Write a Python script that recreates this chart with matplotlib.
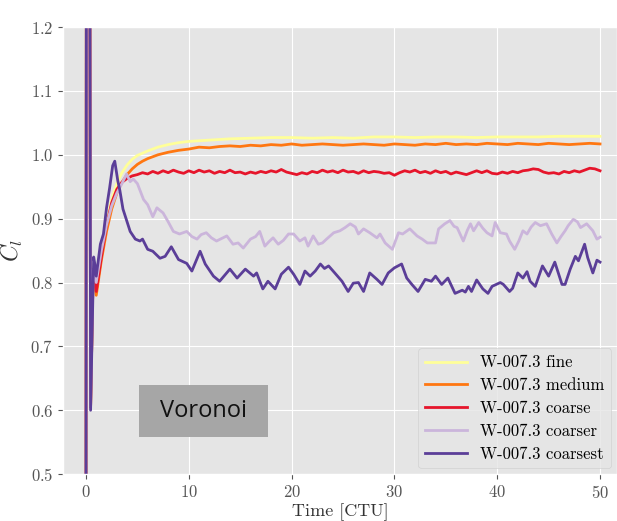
import matplotlib
matplotlib.use('Agg')
import matplotlib.pyplot as plt
from matplotlib.patches import Rectangle

plt.style.use('ggplot')
plt.rcParams['font.family'] = ['cmr10', 'DejaVu Serif']
plt.rcParams['mathtext.fontset'] = 'cm'
plt.rcParams['axes.formatter.use_mathtext'] = True

# common start-up transient (CTU, Cl)
t_start = [0.0, 0.05, 0.35, 0.45, 0.7]
c_start = [0.35, 1.6, 1.6, 0.605, 0.82]

# W-007.3 fine
t_fine = t_start + [1.0, 1.5, 2.0, 2.5, 3.0, 3.5, 4.0, 4.5, 5.0, 6.0, 7.0, 8.0, 9.0, 10.0,
                    12, 14, 16, 18, 20, 22, 24, 26, 28, 30, 32, 34, 36, 38, 40, 42, 44, 46, 48, 50]
c_fine = c_start + [0.79, 0.85, 0.895, 0.93, 0.955, 0.972, 0.984, 0.993, 0.999, 1.006, 1.012, 1.016,
                    1.019, 1.021, 1.023, 1.025, 1.026, 1.027, 1.027, 1.026, 1.027, 1.026, 1.028, 1.028,
                    1.027, 1.028, 1.028, 1.027, 1.028, 1.028, 1.028, 1.029, 1.029, 1.029]

# W-007.3 medium
t_medium = t_start + [1.0, 1.5, 2.0, 2.5, 3.0, 3.5, 4.0, 4.5, 5.0, 5.5, 6.0, 7.0, 8.0, 9.0, 10.0,
                      11, 12, 13, 14, 15, 16, 17, 18, 19, 20, 21, 22, 23, 24, 25, 26, 27, 28, 29, 30,
                      31, 32, 33, 34, 35, 36, 37, 38, 39, 40, 41, 42, 43, 44, 45, 46, 47, 48, 49, 50]
c_medium = c_start + [0.780, 0.835, 0.88, 0.915, 0.94, 0.957, 0.969, 0.978, 0.985, 0.990, 0.994,
                      1.000, 1.004, 1.007, 1.009,
                      1.012, 1.011, 1.013, 1.014, 1.013, 1.015, 1.014, 1.016, 1.015, 1.017,
                      1.015, 1.016, 1.017, 1.016, 1.015, 1.016, 1.017, 1.016, 1.015, 1.017,
                      1.016, 1.015, 1.017, 1.016, 1.018, 1.016, 1.017, 1.016, 1.018, 1.017,
                      1.016, 1.018, 1.017, 1.016, 1.018, 1.017, 1.016, 1.017, 1.018, 1.017]

# W-007.3 coarse
t_coarse = t_start + [1.0, 1.5, 2.0, 2.5, 3.0, 3.5, 4.0, 4.5] + [5.0 + 0.5 * i for i in range(91)]
c_coarse = c_start + [0.786, 0.84, 0.89, 0.925, 0.946, 0.957, 0.963, 0.967,
                      0.969, 0.972, 0.970, 0.974, 0.971, 0.975, 0.972, 0.976, 0.973, 0.971,
                      0.975, 0.972, 0.976, 0.973, 0.975, 0.971, 0.974, 0.972, 0.976, 0.972,
                      0.973, 0.970, 0.973, 0.971, 0.974, 0.972, 0.975, 0.973, 0.977, 0.973,
                      0.971, 0.969, 0.972, 0.970, 0.974, 0.972, 0.976, 0.973, 0.975, 0.972,
                      0.976, 0.973, 0.974, 0.971, 0.975, 0.972, 0.974, 0.973, 0.971, 0.972,
                      0.968, 0.972, 0.975, 0.973, 0.976, 0.972, 0.974, 0.971, 0.975, 0.972,
                      0.974, 0.970, 0.973, 0.971, 0.969, 0.972, 0.975, 0.972, 0.975, 0.971,
                      0.970, 0.973, 0.971, 0.974, 0.972, 0.975, 0.976, 0.978, 0.977, 0.973,
                      0.971, 0.972, 0.970, 0.974, 0.972, 0.975, 0.973, 0.976, 0.979, 0.978,
                      0.975]

# W-007.3 coarser
t_coarser = t_start + [1.0, 1.5, 2.0, 2.5, 3.0, 3.5, 3.95, 4.3, 4.6, 5.0, 5.6, 6.0, 6.5, 6.9, 7.5,
                       8.0, 8.5, 9.1, 9.8, 10.3, 10.8, 11.2, 11.7, 12.2, 12.7, 13.2, 13.7, 14.3, 14.8,
                       15.3, 16.0, 16.5, 16.9, 17.4, 17.8, 18.2, 18.7, 19.2, 19.7, 20.2, 20.8, 21.3,
                       21.6, 22.1, 22.6, 23.0, 23.4, 24.1, 24.7, 25.2, 25.7, 26.2, 26.5, 27.0, 27.6,
                       28.3, 28.6, 29.1, 29.8, 30.4, 30.8, 31.5, 32.2, 32.7, 33.2, 34.0, 34.3, 34.9,
                       35.4, 35.8, 36.1, 36.7, 37.1, 37.4, 37.7, 38.2, 38.6, 39.0, 39.5, 39.8, 40.3,
                       40.9, 41.2, 41.7, 42.1, 42.5, 42.9, 43.3, 43.7, 44.2, 44.8, 45.3, 45.8, 46.2,
                       46.6, 46.9, 47.4, 47.8, 48.1, 48.7, 49.3, 49.7, 50.0]
c_coarser = c_start + [0.80, 0.85, 0.89, 0.92, 0.94, 0.955, 0.970, 0.958, 0.962, 0.955, 0.930, 0.922,
                       0.903, 0.917, 0.909, 0.895, 0.88, 0.876, 0.88, 0.872, 0.868, 0.875, 0.878,
                       0.87, 0.865, 0.869, 0.873, 0.86, 0.862, 0.854, 0.868, 0.872, 0.88, 0.857,
                       0.864, 0.87, 0.86, 0.866, 0.876, 0.876, 0.865, 0.870, 0.857, 0.873, 0.86,
                       0.862, 0.868, 0.878, 0.881, 0.886, 0.892, 0.887, 0.876, 0.884, 0.878, 0.870,
                       0.876, 0.862, 0.852, 0.878, 0.876, 0.884, 0.873, 0.868, 0.862, 0.862, 0.884,
                       0.892, 0.897, 0.888, 0.886, 0.865, 0.882, 0.892, 0.881, 0.894, 0.885, 0.878,
                       0.873, 0.894, 0.878, 0.876, 0.865, 0.852, 0.865, 0.881, 0.876, 0.887, 0.894,
                       0.889, 0.892, 0.876, 0.862, 0.872, 0.881, 0.889, 0.899, 0.895, 0.886, 0.892,
                       0.881, 0.868, 0.871]

# W-007.3 coarsest
t_coarsest = [0.0, 0.05, 0.35, 0.45, 0.75, 0.85, 1.0, 1.4, 1.7, 2.0, 2.3, 2.6, 2.8, 3.1, 3.3, 3.6,
              3.8, 4.3, 4.8, 5.25, 5.5, 6.0, 6.5, 7.2, 7.7, 8.3, 9.0, 9.8, 10.3, 11.1, 11.6, 12.4,
              13.0, 14.0, 14.7, 15.5, 16.3, 16.6, 17.2, 17.7, 18.4, 19.0, 19.7, 20.2, 20.8, 21.3,
              21.8, 22.3, 22.8, 23.2, 23.6, 24.2, 24.9, 25.5, 26.0, 26.5, 27.0, 27.6, 28.3, 28.8,
              29.4, 30.0, 30.7, 31.2, 31.7, 32.3, 33.0, 33.6, 34.0, 34.6, 35.2, 35.9, 36.6, 36.9,
              37.2, 37.5, 38.0, 38.6, 39.1, 39.5, 40.3, 40.6, 41.2, 41.5, 42.0, 42.5, 42.9, 43.2,
              43.7, 44.4, 45.0, 45.6, 46.3, 46.6, 47.1, 47.6, 47.9, 48.5, 48.8, 49.3, 49.7, 50.0]
c_coarsest = [0.35, 1.6, 1.6, 0.60, 0.84, 0.83, 0.81, 0.86, 0.876, 0.917, 0.948, 0.983, 0.99, 0.959,
              0.944, 0.915, 0.905, 0.88, 0.868, 0.865, 0.868, 0.852, 0.849, 0.838, 0.841, 0.856,
              0.836, 0.83, 0.818, 0.849, 0.829, 0.81, 0.802, 0.821, 0.807, 0.821, 0.81, 0.815,
              0.79, 0.802, 0.79, 0.813, 0.824, 0.813, 0.797, 0.818, 0.81, 0.818, 0.829, 0.822,
              0.826, 0.815, 0.802, 0.786, 0.799, 0.80, 0.786, 0.815, 0.805, 0.797, 0.815, 0.823,
              0.829, 0.807, 0.797, 0.786, 0.805, 0.802, 0.81, 0.797, 0.807, 0.783, 0.788, 0.785,
              0.794, 0.786, 0.804, 0.790, 0.783, 0.794, 0.80, 0.797, 0.786, 0.791, 0.815, 0.807,
              0.817, 0.802, 0.794, 0.826, 0.81, 0.832, 0.797, 0.797, 0.821, 0.841, 0.834, 0.86,
              0.839, 0.815, 0.835, 0.832]

fig = plt.figure(figsize=(6.17, 5.21), dpi=100)
ax = fig.add_axes([0.102, 0.090, 0.898, 0.858])

ax.plot(t_fine, c_fine, color='#ffff99', lw=2, label='W-007.3 fine')
ax.plot(t_medium, c_medium, color='#ff7711', lw=2, label='W-007.3 medium')
ax.plot(t_coarse, c_coarse, color='#e6152b', lw=2, label='W-007.3 coarse')
ax.plot(t_coarser, c_coarser, color='#cbb5db', lw=2, label='W-007.3 coarser')
ax.plot(t_coarsest, c_coarsest, color='#5b3e98', lw=2, label='W-007.3 coarsest')

ax.set_xlim(-2.24, 51.65)
ax.set_ylim(0.5, 1.2)
ax.set_xticks([0, 10, 20, 30, 40, 50])
ax.tick_params(labelsize=12)
ax.set_xlabel('Time [CTU]', fontsize=13, color='#333333', labelpad=2)
ax.set_ylabel('$C_l$', fontsize=17, color='#333333')

ax.legend(loc='lower right', fontsize=12, handlelength=2.5, labelspacing=0.45,
          borderaxespad=0.35)

# grey label box
ax.add_patch(Rectangle((0.137, 0.083), 0.233, 0.116, transform=ax.transAxes,
                       facecolor='#a6a6a6', edgecolor='none', zorder=5))
ax.text(0.2535, 0.141, 'Voronoi', transform=ax.transAxes, ha='center', va='center',
        fontsize=17, family='Open Sans', color='#111111', zorder=6)

fig.savefig('out.png', dpi=100)
